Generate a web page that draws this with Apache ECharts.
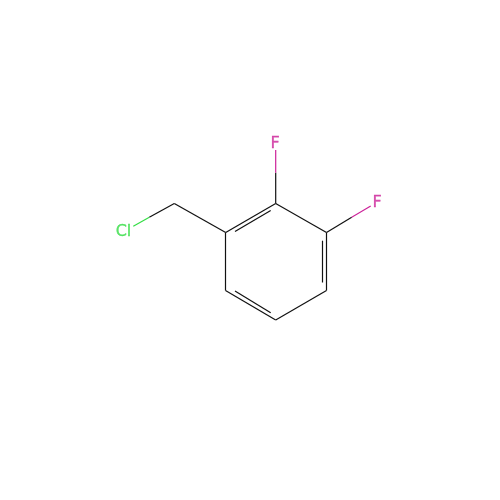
<!DOCTYPE html>
<html><head><meta charset="utf-8">
<style>html,body{margin:0;padding:0;background:#fff}#c{width:500px;height:500px}</style>
<script src="https://cdn.jsdelivr.net/npm/echarts@6/dist/echarts.min.js"></script>
</head><body><div id="c"></div>
<script>
// Bond segments: [x1, y1, x2, y2]
const blackBonds = [
  [174.3,203.5,225.7,232.5],
  [225.7,232.5,275.7,203.5],
  [235,231.5,270.7,210.5],
  [275.7,203.5,326.5,232.5],
  [326.5,232.5,326.5,290.5],
  [322.5,240.7,322.5,282.5],
  [326.5,290.5,275.7,320],
  [275.7,320,225.5,290.5],
  [270.7,312.7,235,291],
  [225.5,290.5,225.5,232.5],
  [174.3,203.5,149.3,217.3],
  [275.7,203.5,275.7,172.7],
  [326.5,232.5,351.7,217.3]
];
const greenBonds = [[149.3,217.3,133.3,226.3]];
const pinkBonds = [[275.7,172.7,275.7,150],[351.7,217.3,370.7,206]];
const atoms = [
  ['Cl',123.5,232,'#33dd44'],
  ['F',275,144,'#cc2299'],
  ['F',377,202.5,'#cc2299']
];
const bondSeries = (list,color)=>list.map(b=>({
  type:'line',silent:true,animation:false,symbol:'none',
  lineStyle:{color,width:1.2},
  data:[[b[0],b[1]],[b[2],b[3]]]
}));
const chart = echarts.init(document.getElementById('c'),null,{renderer:'canvas'});
chart.setOption({
  backgroundColor:'#fff',animation:false,
  grid:{left:0,right:0,top:0,bottom:0},
  xAxis:{type:'value',min:0,max:500,show:false},
  yAxis:{type:'value',min:0,max:500,inverse:true,show:false},
  series:[
    ...bondSeries(blackBonds,'#111'),
    ...bondSeries(greenBonds,'#33dd44'),
    ...bondSeries(pinkBonds,'#cc2299'),
    {type:'scatter',silent:true,symbolSize:0,
     data:atoms.map(a=>({value:[a[1],a[2]],
       label:{show:true,position:'inside',formatter:a[0],color:a[3],
              fontFamily:'DejaVu Sans',fontSize:16,
              textBorderColor:a[3],textBorderWidth:0.3}}))}
  ]
});
</script></body></html>
